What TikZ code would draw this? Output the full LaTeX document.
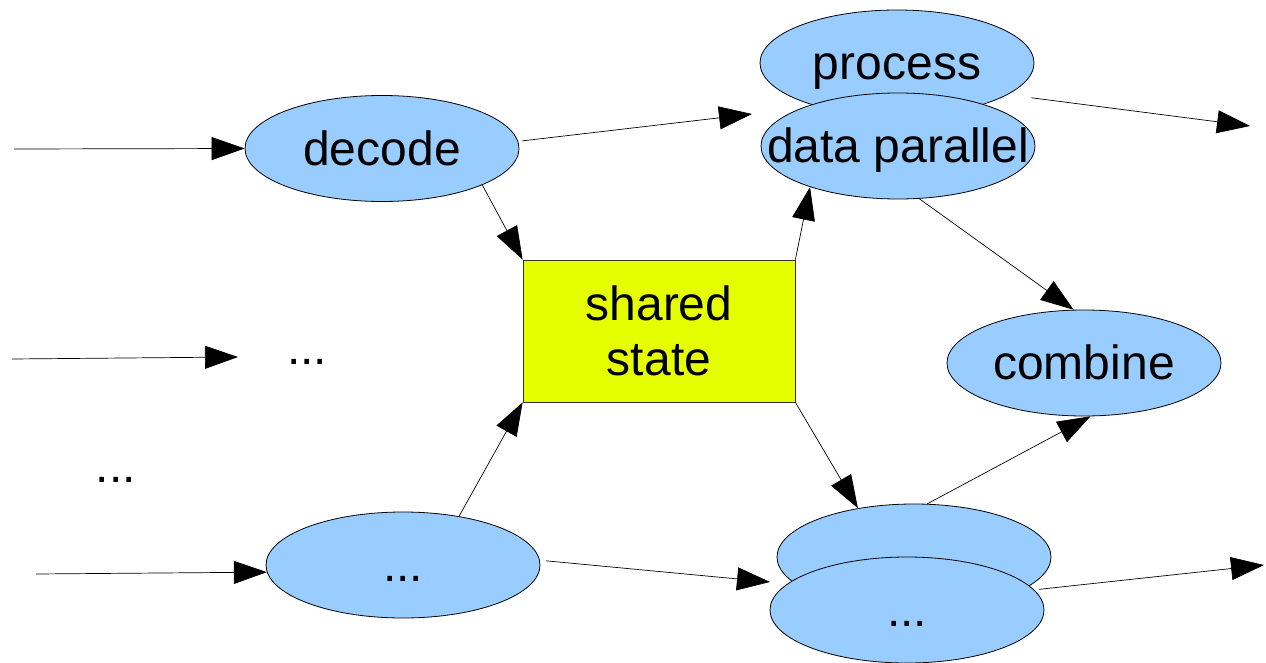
\documentclass[tikz,border=0pt]{standalone}
\usepackage{fontspec}
\setmainfont{Liberation Sans}
\usetikzlibrary{arrows.meta,shapes.geometric}
\definecolor{blob}{HTML}{99CCFF}
\definecolor{lime}{HTML}{E6FF00}
% text that may overhang its ellipse without widening it
\newcommand\ovl[1]{\makebox[0pt]{#1}}

\begin{document}
\begin{tikzpicture}[x=1pt,y=-1pt,
  bigfont/.style={font=\fontsize{48}{55}\selectfont},
  proc/.style={ellipse, draw=black, line width=0.8pt, fill=blob,
    minimum width=274pt, minimum height=106pt, inner sep=0pt,
    text height=43.4pt, text depth=10.2pt, bigfont},
  store/.style={rectangle, draw=black!80, line width=0.8pt, fill=lime,
    minimum width=272pt, minimum height=142pt, align=center, bigfont},
  dots/.style={inner sep=0pt, text height=43.4pt, text depth=10.2pt, bigfont},
  flow/.style={-{Triangle[length=33pt,width=23pt]}, line width=0.7pt}
]
\useasboundingbox (0,0) rectangle (1266,663);

% stages
\node[proc] (decode)  at (382,148.5) {\ovl{decode}};
\node[proc] (process) at (897,63)    {\ovl{process}};
\node[proc] (dp)      at (898,146)   {\ovl{data parallel}};
\node[proc] (combine) at (1084,363)  {\ovl{combine}};
\node[proc] (src)     at (403,565)   {\ovl{...}};
\node[proc] (back)    at (914,557)   {};
\node[proc] (front)   at (907,610)   {\ovl{...}};
\node[store] (state)  at (659,331)   {shared\\state};
\node[dots] (mid)     at (307,348)   {...};
\node[dots] (left)    at (116,466)   {...};

% loose ends of the flows
\coordinate (in1)  at (14,149);
\coordinate (in2)  at (12,359);
\coordinate (in3)  at (36,574);
\coordinate (gap)  at (238,357);
\coordinate (fork) at (752,114);
\coordinate (out1) at (1250,126);
\coordinate (join) at (770,582);
\coordinate (out2) at (1264,565);

% flows
\draw[flow] (in1) -- (decode.west);
\draw[flow] (in2) -- (gap);
\draw[flow] (in3) -- (src.183);
\draw[flow, shorten <=4pt] (decode.3) -- (fork);
\draw[flow] (decode.-20) -- (state.north west);
\draw[flow] (state.north east) -- (dp.205);
\draw[flow] (dp.-68) -- (combine.101);
\draw[flow, shorten <=24pt] (process.-16) -- (out1);
\draw[flow] (state.south east) -- (back.139);
\draw[flow] (src.41) -- (state.south west);
\draw[flow, shorten <=6pt] (src.2) -- (join);
\draw[flow] (back.76) -- (combine.-83);
\draw[flow, shorten <=5pt] (front.9) -- (out2);
\end{tikzpicture}
\end{document}
